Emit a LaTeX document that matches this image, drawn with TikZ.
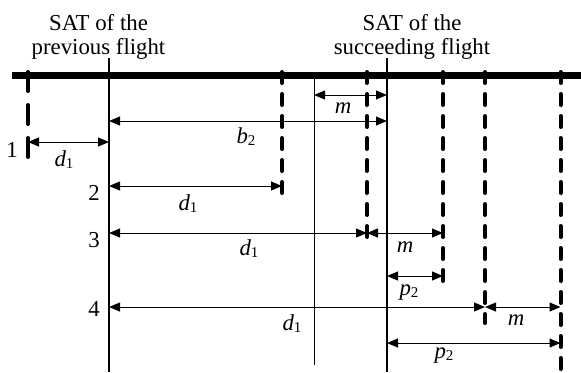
\documentclass[tikz,border=0pt]{standalone}
\usepackage{fontspec}
\setmainfont{Liberation Serif}
\usetikzlibrary{arrows.meta}
\tikzset{
  bar/.style={line width=3.5pt},
  satline/.style={line width=1pt},
  guide/.style={line width=0.5pt},
  dline/.style={line width=2pt, line cap=round, dash pattern=on 5.5pt off 5.5pt},
  dlineA/.style={line width=2pt, line cap=round, dash pattern=on 9.5pt off 7pt},
  dim/.style={line width=0.5pt, {Triangle[length=5.5pt,width=4.5pt]}-{Triangle[length=5.5pt,width=4.5pt]}},
  lbl/.style={inner sep=0pt, anchor=base, font=\fontsize{11.4}{12}\selectfont},
  title/.style={inner sep=0pt, align=center, anchor=north, font=\fontsize{11.4}{12}\selectfont},
}
\newcommand{\vsym}[2]{\textit{#1}\raisebox{-1pt}{\fontsize{7.5}{8}\selectfont #2}}
\begin{document}
\begin{tikzpicture}[x=0.5pt,y=-0.5pt]
\useasboundingbox (0,0) rectangle (581,372);
% titles
\node[title] (tPrev) at (98.5,14.5) {SAT of the\\previous flight};
\node[title] (tSucc) at (412,14.5) {SAT of the\\succeeding flight};
% coordinates of the vertical lines
\coordinate (pTop) at (109,58);  \coordinate (pBot) at (109,372);
\coordinate (sTop) at (387,58);  \coordinate (sBot) at (387,372);
\coordinate (gTop) at (314,79);  \coordinate (gBot) at (314,365);
\coordinate (barL) at (12,75.5); \coordinate (barR) at (581,75.5);
\coordinate (q1t) at (28,72);    \coordinate (q1b) at (28,162);
\coordinate (q2t) at (282,72);   \coordinate (q2b) at (282,202);
\coordinate (q3t) at (367,72);   \coordinate (q3b) at (367,245);
\coordinate (q4t) at (443,72);   \coordinate (q4b) at (443,290);
\coordinate (q5t) at (485,72);   \coordinate (q5b) at (485,323);
\coordinate (q6t) at (560.5,72); \coordinate (q6b) at (560.5,372);
% rows
\coordinate (rM) at (0,95);
\coordinate (rB) at (0,121);
\coordinate (r1) at (0,142);
\coordinate (r2) at (0,186);
\coordinate (r3) at (0,233);
\coordinate (rP) at (0,276);
\coordinate (r4) at (0,307);
\coordinate (rQ) at (0,343);
% lines
\draw[satline] (pTop) -- (pBot);
\draw[satline] (sTop) -- (sBot);
\draw[guide] (gTop) -- (gBot);
\draw[dlineA] (q1t) -- (q1b);
\draw[dline] (q2t) -- (q2b);
\draw[dline] (q3t) -- (q3b);
\draw[dline] (q4t) -- (q4b);
\draw[dline] (q5t) -- (q5b);
\draw[dline] (q6t) -- (q6b);
\draw[bar] (barL) -- (barR);
% dimension arrows
\draw[dim] (gTop |- rM) -- (sTop |- rM);
\draw[dim] (pTop |- rB) -- (sTop |- rB);
\draw[dim] (q1t |- r1) -- (pTop |- r1);
\draw[dim] (pTop |- r2) -- (q2t |- r2);
\draw[dim] (pTop |- r3) -- (q3t |- r3);
\draw[dim] (q3t |- r3) -- (q4t |- r3);
\draw[dim] (sTop |- rP) -- (q4t |- rP);
\draw[dim] (pTop |- r4) -- (q5t |- r4);
\draw[dim] (q5t |- r4) -- (q6t |- r4);
\draw[dim] (sTop |- rQ) -- (q6t |- rQ);
% labels
\node[lbl] (lm1) at (343,113) {\textit{m}};
\node[lbl] (lb2) at (246,143) {\vsym{b}{2}};
\node[lbl] (ld1) at (64,166) {\vsym{d}{1}};
\node[lbl] (ld2) at (188,210) {\vsym{d}{1}};
\node[lbl] (ld3) at (249,255) {\vsym{d}{1}};
\node[lbl] (ld4) at (292,330) {\vsym{d}{1}};
\node[lbl] (lm3) at (405,252) {\textit{m}};
\node[lbl] (lp1) at (409,295) {\vsym{p}{2}};
\node[lbl] (lm4) at (516,325) {\textit{m}};
\node[lbl] (lp2) at (444,358) {\vsym{p}{2}};
\node[lbl] (n1) at (12,157) {1};
\node[lbl] (n2) at (94,200) {2};
\node[lbl] (n3) at (94,247) {3};
\node[lbl] (n4) at (94,316) {4};
\end{tikzpicture}
\end{document}
